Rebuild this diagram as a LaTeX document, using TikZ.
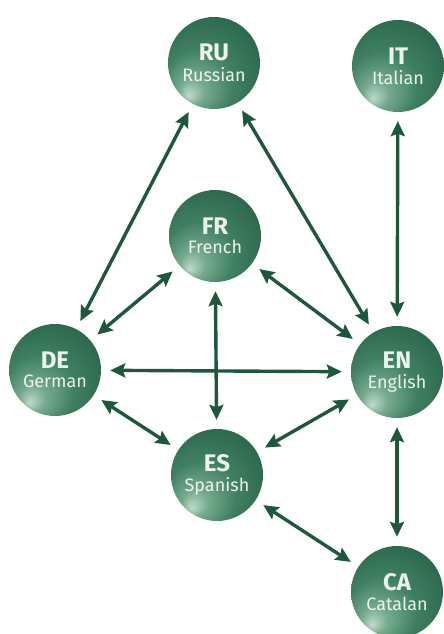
\documentclass[tikz,border=0pt]{standalone}
\usepackage{fontspec}
\setsansfont{Fira Sans}
\usetikzlibrary{arrows.meta}
\definecolor{langdark}{RGB}{42,102,76}
\definecolor{langmid}{RGB}{64,128,98}
\definecolor{langlight}{RGB}{118,170,142}
\definecolor{langhigh}{RGB}{190,220,202}
\definecolor{langtext}{RGB}{236,243,238}
\definecolor{linkgreen}{RGB}{30,88,60}
\pgfdeclareradialshading{langball}{\pgfpoint{-14bp}{-18bp}}{%
  color(0bp)=(langhigh); color(7bp)=(langlight); color(19bp)=(langmid);
  color(34bp)=(langdark); color(50bp)=(langdark)}
\tikzset{
  lang/.style={circle, minimum size=92pt, inner sep=0pt, shading=langball,
    text=langtext, align=center, font=\sffamily},
  link/.style={linkgreen, line width=3.4pt, shorten <=9pt, shorten >=9pt,
    {Stealth[length=15pt,width=14pt,inset=2.5pt]}-{Stealth[length=15pt,width=14pt,inset=2.5pt]}}
}
\newcommand{\langname}[2]{{\fontsize{24}{26}\selectfont\bfseries #1}\\[5pt]{\fontsize{18}{20}\selectfont #2}}

\begin{document}
\begin{tikzpicture}[x=1pt,y=-1pt]
  \useasboundingbox (0,0) rectangle (444,634);
  % Languages
  \node[lang] (RU) at (214,63) {\langname{RU}{Russian}};
  \node[lang] (IT) at (398,66) {\langname{IT}{Italian}};
  \node[lang] (FR) at (215,236) {\langname{FR}{French}};
  \node[lang] (DE) at (55,370) {\langname{DE}{German}};
  \node[lang] (EN) at (397,372) {\langname{EN}{English}};
  \node[lang] (ES) at (217,475) {\langname{ES}{Spanish}};
  \node[lang] (CA) at (397,592) {\langname{CA}{Catalan}};
  % Translation pairs
  \foreach \a/\b in {RU/DE, RU/EN, IT/EN, FR/DE, FR/EN, FR/ES, DE/EN, DE/ES, EN/ES, EN/CA, ES/CA} {
    \draw[link] (\a) -- (\b);
  }
\end{tikzpicture}
\end{document}
